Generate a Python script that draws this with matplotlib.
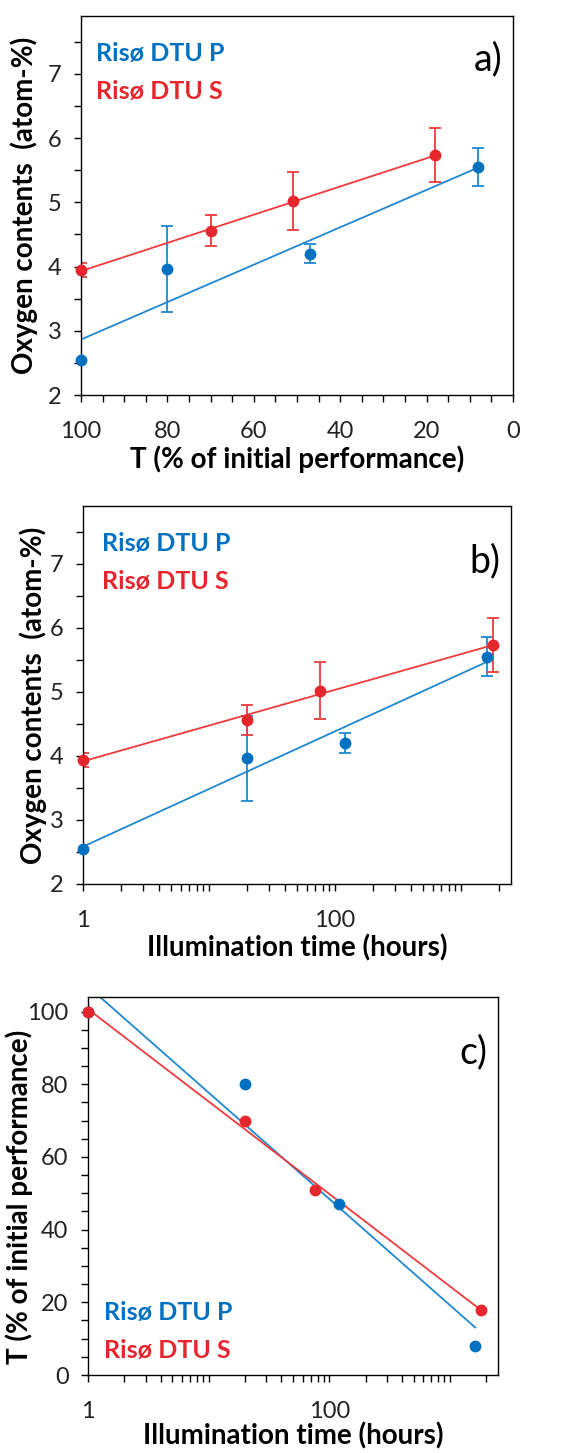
import numpy as np
import matplotlib
matplotlib.use('Agg')
import matplotlib.pyplot as plt
from matplotlib.ticker import MultipleLocator, FixedLocator, NullFormatter

# --- data ---
t_p = [100, 80, 47, 8]          # T (% of initial performance), Risø DTU P
t_s = [100, 70, 51, 18]         # Risø DTU S
hours_p = [1, 20, 120, 1620]    # illumination time (hours)
hours_s = [1, 20, 76, 1800]
ox_p = [2.55, 3.96, 4.20, 5.55] # oxygen contents (atom-%)
ox_s = [3.94, 4.56, 5.02, 5.73]
err_p = [1.35, 0.67, 0.15, 0.30]
err_s = [0.11, 0.24, 0.45, 0.42]

labels = ['Risø DTU P', 'Risø DTU S']
c_mark = ['#0070C0', '#E5262C']
c_line = ['#1F88D0', '#EC3B3E']

plt.rcParams['font.family'] = ['Lato', 'DejaVu Sans']

W, H = 568, 1453
fig = plt.figure(figsize=(W / 100, H / 100), dpi=100)

def box(l, t, r, b):
  return [l / W, 1 - b / H, (r - l) / W, (b - t) / H]

ax_a = fig.add_axes(box(81, 16, 513, 395))
ax_b = fig.add_axes(box(83, 506, 511, 884))
ax_c = fig.add_axes(box(88, 997, 498, 1375))

LBL = 20

def style(ax):
  for s in ax.spines.values():
    s.set_linewidth(1.0)
    s.set_color('black')
  ax.tick_params(which='both', direction='out', length=5, width=1, labelsize=17, colors='black', labelcolor='#222222')
  ax.tick_params(axis='y', which='both', pad=9)
  ax.tick_params(axis='x', which='both', pad=14)
  ax.tick_params(which='both', top=False, right=False)

def legend_text(ax, x, y):
  ax.text(x, y, labels[0], transform=ax.transAxes, color=c_mark[0], fontsize=18, fontweight='bold', va='center')
  ax.text(x, y - 0.1, labels[1], transform=ax.transAxes, color=c_mark[1], fontsize=18, fontweight='bold', va='center')

def trend(x, y, logx=False):
  xx = np.log10(x) if logx else np.asarray(x, float)
  k, b = np.polyfit(xx, y, 1)
  xs = np.linspace(xx.min(), xx.max(), 50)
  xp = 10 ** xs if logx else xs
  return xp, k * xs + b

def series(ax, x, y, i, e=None, logx=False):
  if e is not None:
    ax.errorbar(x, y, yerr=e, fmt='none', ecolor=c_line[i], elinewidth=1.3, capsize=4, capthick=1.3, zorder=2)
  xp, yp = trend(x, y, logx)
  ax.plot(xp, yp, color=c_line[i], lw=1.3, zorder=2)
  ax.plot(x, y, 'o', color=c_mark[i], ms=7.5, zorder=3, clip_on=False)

# a) oxygen vs T
ax = ax_a
series(ax, t_p, ox_p, 0, err_p)
series(ax, t_s, ox_s, 1, err_s)
ax.set_xlim(100, 0)
ax.set_ylim(2, 7.9)
ax.xaxis.set_major_locator(MultipleLocator(20))
ax.xaxis.set_minor_locator(MultipleLocator(5))
ax.yaxis.set_major_locator(MultipleLocator(1))
ax.yaxis.set_minor_locator(MultipleLocator(0.5))
style(ax)
ax.set_xlabel('T (% of initial performance)', fontsize=LBL, fontweight='bold', labelpad=2)
ax.set_ylabel('Oxygen contents  (atom-%)', fontsize=LBL, fontweight='bold')
ax.yaxis.set_label_coords(-0.100, 0.5)
legend_text(ax, 0.035, 0.9)
ax.text(0.975, 0.885, 'a)', transform=ax.transAxes, fontsize=27, ha='right', va='center')

def log_axis(ax):
  ax.set_xscale('log')
  ax.set_xlim(1, 2500)
  ax.xaxis.set_major_locator(FixedLocator([1, 100]))
  minors = [m * 10 ** d for d in range(0, 4) for m in range(1, 10)]
  ax.xaxis.set_minor_locator(FixedLocator([v for v in minors if v not in (1, 100)]))
  ax.xaxis.set_minor_formatter(NullFormatter())
  ax.set_xticklabels(['1', '100'])

# b) oxygen vs time
ax = ax_b
series(ax, hours_p, ox_p, 0, err_p, logx=True)
series(ax, hours_s, ox_s, 1, err_s, logx=True)
log_axis(ax)
ax.set_ylim(2, 7.9)
ax.yaxis.set_major_locator(MultipleLocator(1))
ax.yaxis.set_minor_locator(MultipleLocator(0.5))
style(ax)
ax.set_xlabel('Illumination time (hours)', fontsize=LBL, fontweight='bold', labelpad=2)
ax.set_ylabel('Oxygen contents  (atom-%)', fontsize=LBL, fontweight='bold')
ax.yaxis.set_label_coords(-0.085, 0.5)
legend_text(ax, 0.045, 0.9)
ax.text(0.975, 0.855, 'b)', transform=ax.transAxes, fontsize=27, ha='right', va='center')

# c) T vs time
ax = ax_c
series(ax, hours_p, t_p, 0, logx=True)
series(ax, hours_s, t_s, 1, logx=True)
log_axis(ax)
ax.set_ylim(0, 104)
ax.yaxis.set_major_locator(MultipleLocator(20))
ax.yaxis.set_minor_locator(MultipleLocator(5))
style(ax)
ax.set_xlabel('Illumination time (hours)', fontsize=LBL, fontweight='bold', labelpad=0)
ax.set_ylabel('T (% of initial performance)', fontsize=LBL, fontweight='bold')
ax.yaxis.set_label_coords(-0.135, 0.47)
legend_text(ax, 0.04, 0.165)
ax.text(0.975, 0.855, 'c)', transform=ax.transAxes, fontsize=27, ha='right', va='center')

fig.savefig('out.png', dpi=100)
